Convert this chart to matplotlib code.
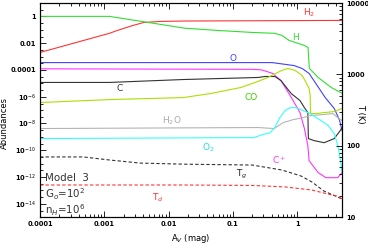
import numpy as np
import matplotlib
matplotlib.use('Agg')
import matplotlib.pyplot as plt
from matplotlib.ticker import LogLocator, FixedLocator, FixedFormatter, NullFormatter

# ---------------- data ----------------
av_h2 = [1e-4, 1.2e-3, 1.6e-3, 2.8e-3, 4.1e-3, 7.5e-3, 0.018, 5.0]
x_h2 = [2.0e-3, 0.054, 0.089, 0.21, 0.35, 0.42, 0.45, 0.5]

av_h = [1e-4, 1.2e-3, 0.018, 0.058, 0.2, 0.45, 0.58, 0.75, 1.29, 1.48, 1.55, 2.13, 3.4, 5.0]
x_h = [1.0, 1.0, 0.13, 0.089, 0.063, 0.054, 0.038, 0.016, 6.8e-3, 4.8e-3, 1.3e-4, 2.7e-5, 4.8e-6, 1.8e-6]

av_o = [1e-4, 0.41, 0.90, 1.2, 1.54, 2.74, 3.79, 4.6, 5.0]
x_o = [3.5e-4, 3.5e-4, 2.1e-4, 1.27e-4, 5.4e-5, 8.5e-7, 1.3e-7, 1.6e-8, 2.9e-9]

av_cp = [1e-4, 0.2, 0.28, 0.42, 0.56, 0.78, 1.11, 1.3, 1.47, 1.54, 2.13, 2.8, 4.3, 5.0]
x_cp = [1.2e-4, 1.1e-4, 1.0e-4, 5.4e-5, 1.6e-5, 1.2e-6, 6.4e-8, 4.1e-9, 2.2e-10, 1.6e-11,
        2.1e-12, 8.7e-13, 8.7e-13, 2.1e-12]

av_c = [1e-4, 1.2e-3, 0.017, 0.245, 0.316, 0.45, 0.56, 0.81, 1.11, 1.3, 1.47, 1.50,
        1.85, 2.64, 3.79, 4.7, 5.0]
x_c = [1.15e-5, 1.15e-5, 1.9e-5, 2.7e-5, 3.2e-5, 3.2e-5, 1.6e-5, 1.7e-6, 5.1e-7, 1.5e-7,
       6.4e-8, 7.3e-10, 5.1e-10, 3.6e-10, 7.3e-10, 2.9e-9, 4.9e-9]

av_co = [1e-4, 1.2e-3, 0.017, 0.045, 0.133, 0.245, 0.35, 0.58, 0.72, 0.93, 1.2, 1.38,
         1.54, 1.60, 1.62, 1.98, 2.64, 3.79, 5.0]
x_co = [3.6e-7, 6.0e-7, 8.5e-7, 1.7e-6, 4.8e-6, 1.35e-5, 2.7e-5, 9.1e-5, 1.27e-4, 9.1e-5,
        3.8e-5, 1.15e-5, 4.0e-6, 1.2e-6, 5.4e-8, 5.4e-8, 6.4e-8, 7.6e-8, 1.3e-7]

av_h2o = [1e-4, 0.245, 0.44, 0.61, 0.87, 1.24, 1.6, 2.64, 3.6, 4.3, 5.0]
x_h2o = [4.1e-9, 4.9e-9, 4.1e-9, 1.15e-8, 1.9e-8, 2.7e-8, 3.8e-8, 4.6e-8, 5.4e-8, 2.7e-8, 1.6e-8]

av_o2 = [1e-4, 0.213, 0.29, 0.38, 0.45, 0.54, 0.65, 0.78, 0.96, 1.24, 1.6, 1.98, 2.37,
         3.05, 3.79, 4.3, 4.7, 5.0]
x_o2 = [7.3e-10, 8.7e-10, 1.45e-9, 2.0e-9, 4.9e-9, 2.7e-8, 9.1e-8, 1.5e-7, 1.5e-7, 9.1e-8,
        5.4e-8, 2.7e-8, 1.6e-8, 6.9e-9, 1.7e-9, 2.2e-10, 2.3e-11, 2.1e-12]

# temperatures (right axis, K)
av_tg = [1e-4, 4.7e-4, 1.2e-3, 3.6e-3, 0.018, 0.2, 0.58, 1.15, 1.7, 2.6, 5.0]
t_gas = [69.5, 69.5, 63, 57, 55, 53.5, 45.6, 37.6, 31, 23.2, 17.9]

av_td = [1e-4, 0.018, 0.2, 0.65, 1.7, 2.6, 4.1, 5.0]
t_dust = [28.1, 28.1, 27.7, 26.4, 23.9, 21.7, 19.7, 17.9]

ytick_vals = [1, 1e-2, 1e-4, 1e-6, 1e-8, 1e-10, 1e-12, 1e-14]
ytick_txt = ['1', '0.01', '0.0001', r'10$^{-6}$', r'10$^{-8}$', r'10$^{-10}$', r'10$^{-12}$', r'10$^{-14}$']
xtick_vals = [1e-4, 1e-3, 1e-2, 1e-1, 1]
xtick_txt = ['0.0001', '0.001', '0.01', '0.1', '1']
ttick_vals = [10, 100, 1000, 10000]
ttick_txt = ['10', '100', '1000', '10000']

# ---------------- plot ----------------
fig = plt.figure(figsize=(3.68, 2.44), dpi=100)
ax = fig.add_axes([40 / 368, 1 - 217 / 244, 302 / 368, 214 / 244])
ax.set_xscale('log')
ax.set_yscale('log')

lw = 0.8
ax.plot(av_h2, x_h2, color='#ff3333', lw=lw)
ax.plot(av_h, x_h, color='#33dd33', lw=lw)
ax.plot(av_o, x_o, color='#4040ff', lw=lw)
ax.plot(av_cp, x_cp, color='#ff33ff', lw=lw)
ax.plot(av_c, x_c, color='#333333', lw=lw)
ax.plot(av_co, x_co, color='#aae000', lw=lw)
ax.plot(av_h2o, x_h2o, color='#b4b4b4', lw=lw)
ax.plot(av_o2, x_o2, color='#33ffff', lw=lw)

ax.set_xlim(1e-4, 5)
ax.set_ylim(1e-15, 10)

ax2 = ax.twinx()
ax2.set_yscale('log')
ax2.plot(av_tg, t_gas, color='#333333', lw=lw, ls=(0, (3, 2)))
ax2.plot(av_td, t_dust, color='#ff3333', lw=lw, ls=(0, (3, 2)))
ax2.set_ylim(10, 1e4)

# ticks
tk = dict(labelsize=4.8)
ax.yaxis.set_major_locator(FixedLocator(ytick_vals))
ax.yaxis.set_major_formatter(FixedFormatter(ytick_txt))
ax.yaxis.set_minor_locator(LogLocator(base=10, subs=(1.0, 3.0), numticks=60))
ax.yaxis.set_minor_formatter(NullFormatter())
ax.xaxis.set_major_locator(FixedLocator(xtick_vals))
ax.xaxis.set_major_formatter(FixedFormatter(xtick_txt))
ax.xaxis.set_minor_locator(LogLocator(base=10, subs=np.arange(2, 10), numticks=30))
ax.xaxis.set_minor_formatter(NullFormatter())
ax.tick_params(which='both', direction='in', top=True, right=False, width=0.6, **tk)
ax.tick_params(which='major', length=4, pad=3)
ax.tick_params(which='minor', length=2)

ax2.yaxis.set_major_locator(FixedLocator(ttick_vals))
ax2.yaxis.set_major_formatter(FixedFormatter(ttick_txt))
ax2.yaxis.set_minor_locator(LogLocator(base=10, subs=np.arange(2, 10), numticks=30))
ax2.yaxis.set_minor_formatter(NullFormatter())
ax2.tick_params(which='both', direction='in', width=0.6, **tk)
ax2.tick_params(which='major', length=4, pad=3)
ax2.tick_params(which='minor', length=2)

for lab in ax.get_xticklabels() + ax.get_yticklabels() + ax2.get_yticklabels():
    lab.set_fontweight('bold')

for sp in ax.spines.values():
    sp.set_linewidth(0.8)

ax.set_xlabel(r'A$_V$ (mag)', fontsize=6)
ax.xaxis.set_label_coords(0.5, -0.07)
ax.set_ylabel('Abundances', fontsize=6)
ax.yaxis.set_label_coords(-0.103, 0.44)
ax2.set_ylabel('T (K)', fontsize=6, rotation=270, va='center')
ax2.yaxis.set_label_coords(1.063, 0.48)

# species labels
fs = 6.5
ax.text(1.53, 2.0, r'H$_2$', color='#ff3333', fontsize=fs, ha='center', va='center')
ax.text(0.96, 0.027, 'H', color='#33dd33', fontsize=fs, ha='center', va='center')
ax.text(0.1, 7e-4, 'O', color='#4040ff', fontsize=fs, ha='center', va='center')
ax.text(1.76e-3, 4e-6, 'C', color='#333333', fontsize=fs, ha='center', va='center')
ax.text(0.19, 8.5e-7, 'CO', color='#44cc00', fontsize=fs, ha='center', va='center')
ax.text(0.0113, 1.6e-8, r'H$_2$O', color='#aaaaaa', fontsize=fs, ha='center', va='center')
ax.text(0.041, 1.5e-10, r'O$_2$', color='#22dddd', fontsize=fs, ha='center', va='center')
ax.text(0.52, 1.9e-11, r'C$^+$', color='#ff33ff', fontsize=fs, ha='center', va='center')
ax.text(0.139, 1.5e-12, r'T$_g$', color='#222222', fontsize=fs, ha='center', va='center')
ax.text(6.9e-3, 2.8e-14, r'T$_d$', color='#ff3333', fontsize=fs, ha='center', va='center')

# model info
info = dict(transform=ax.transAxes, fontsize=7.4, color='#333333', ha='left', va='center')
ax.text(0.015, 0.180, 'Model  3', **info)
ax.text(0.015, 0.106, r'G$_o$=10$^2$', **info)
ax.text(0.015, 0.030, r'n$_H$=10$^6$', **info)

fig.savefig('out.png', dpi=100)
